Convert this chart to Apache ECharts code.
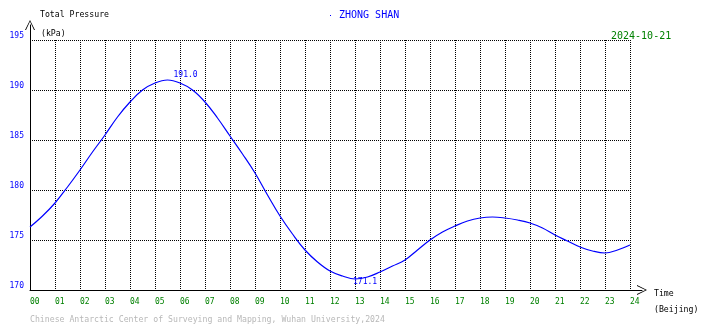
<!DOCTYPE html>
<html><head><meta charset="utf-8">
<script src="https://cdn.jsdelivr.net/npm/echarts@6/dist/echarts.min.js"></script>
<style>html,body{margin:0;padding:0;background:#fff}#c{width:710px;height:328px}</style>
</head><body><div id="c"></div>
<script>
// Data (half-hour steps, Beijing time)
const hours = [0,0.5,1,1.5,2,2.5,3,3.5,4,4.5,5,5.5,6,6.5,7,7.5,8,8.5,9,9.5,10,10.5,11,11.5,12,12.5,13,13.5,14,14.5,15,15.5,16,16.5,17,17.5,18,18.5,19,19.5,20,20.5,21,21.5,22,22.5,23,23.5,24];
const pressure = [176.3,177.4,178.7,180.3,182.0,183.8,185.5,187.3,188.8,190.0,190.7,191.0,190.7,190.0,188.8,187.2,185.4,183.6,181.7,179.5,177.4,175.6,174.0,172.8,171.9,171.4,171.1,171.3,171.8,172.4,173.0,174.0,175.0,175.8,176.4,176.9,177.2,177.3,177.2,177.0,176.7,176.2,175.5,174.9,174.3,173.9,173.7,174.0,174.5];
const xTickLabels = ['00','01','02','03','04','05','06','07','08','09','10','11','12','13','14','15','16','17','18','19','20','21','22','23','24'];
const yTickValues = [170,175,180,185,190,195];
const stationName = 'ZHONG SHAN';
const dateText = '2024-10-21';

const MONO = '"DejaVu Sans Mono","Liberation Mono",monospace';
const seriesData = hours.map((h, i) => [h, pressure[i]]);
const chevron = 'path://M0,10 L5,0 L10,10 L9,10 L5,1.6 L1,10 Z';

function txt(text, left, top, size, color) {
  return {text: text, left: left, top: top, padding: 0, itemGap: 0,
    textStyle: {fontFamily: MONO, fontSize: size, fontWeight: 'normal', color: color}};
}

const chart = echarts.init(document.getElementById('c'), null, {renderer: 'canvas'});
chart.setOption({
  animation: false,
  backgroundColor: '#ffffff',
  title: [
    txt('Total Pressure', 40, 11, 8.2, '#000'),
    txt('(kPa)', 41, 30, 8.2, '#000'),
    txt(stationName, 339, 10, 10, '#0000ff'),
    txt(dateText, 611, 31, 10, '#008000'),
    txt('Time', 654, 290, 8.2, '#000'),
    txt('(Beijing)', 654, 306, 8.2, '#000'),
    txt('Chinese Antarctic Center of Surveying and Mapping, Wuhan University,2024', 30, 316, 8.2, '#b8b8b8')
  ],
  graphic: [
    {type: 'rect', shape: {x: 330, y: 15, width: 1, height: 1}, style: {fill: '#0000ff'}}
  ],
  grid: [
    {left: 30, top: 40, width: 600, height: 250, containLabel: false},
    {left: 30, top: 25, width: 612, height: 265, containLabel: false}
  ],
  xAxis: [
    {
      gridIndex: 0, type: 'value', min: 0, max: 24, interval: 1,
      axisLine: {show: false}, axisTick: {show: false},
      axisLabel: {
        color: '#008000', fontFamily: MONO, fontSize: 8, align: 'left', margin: 8,
        formatter: v => xTickLabels[Math.round(v)]
      },
      splitLine: {show: true, lineStyle: {color: '#000', width: 1, type: [1, 1]}}
    },
    {
      gridIndex: 1, type: 'value', min: 0, max: 1,
      axisLine: {show: true, lineStyle: {color: '#000', width: 1}, symbol: ['none', chevron], symbolSize: [10, 11]},
      axisTick: {show: false}, axisLabel: {show: false}, splitLine: {show: false}
    }
  ],
  yAxis: [
    {
      gridIndex: 0, type: 'value', min: yTickValues[0], max: yTickValues[yTickValues.length - 1], interval: 5,
      axisLine: {show: false}, axisTick: {show: false},
      axisLabel: {color: '#0000ff', fontFamily: MONO, fontSize: 8, margin: 6, verticalAlign: 'bottom', lineHeight: 8},
      splitLine: {show: true, lineStyle: {color: '#000', width: 1, type: [1, 1]}}
    },
    {
      gridIndex: 1, type: 'value', min: 0, max: 1,
      axisLine: {show: true, lineStyle: {color: '#000', width: 1}, symbol: ['none', chevron], symbolSize: [10, 10]},
      axisTick: {show: false}, axisLabel: {show: false}, splitLine: {show: false}
    }
  ],
  series: [{
    type: 'line', xAxisIndex: 0, yAxisIndex: 0,
    data: seriesData, smooth: 0.4, showSymbol: false, symbol: 'none',
    lineStyle: {color: '#0000ff', width: 1.2},
    markPoint: {
      symbol: 'circle', symbolSize: 0,
      label: {show: true, color: '#0000ff', fontFamily: MONO, fontSize: 8, formatter: p => p.value.toFixed(1)},
      data: [
        {type: 'max', label: {position: [6, -9]}},
        {type: 'min', label: {position: [-2, -1]}}
      ]
    }
  }]
});
</script></body></html>
